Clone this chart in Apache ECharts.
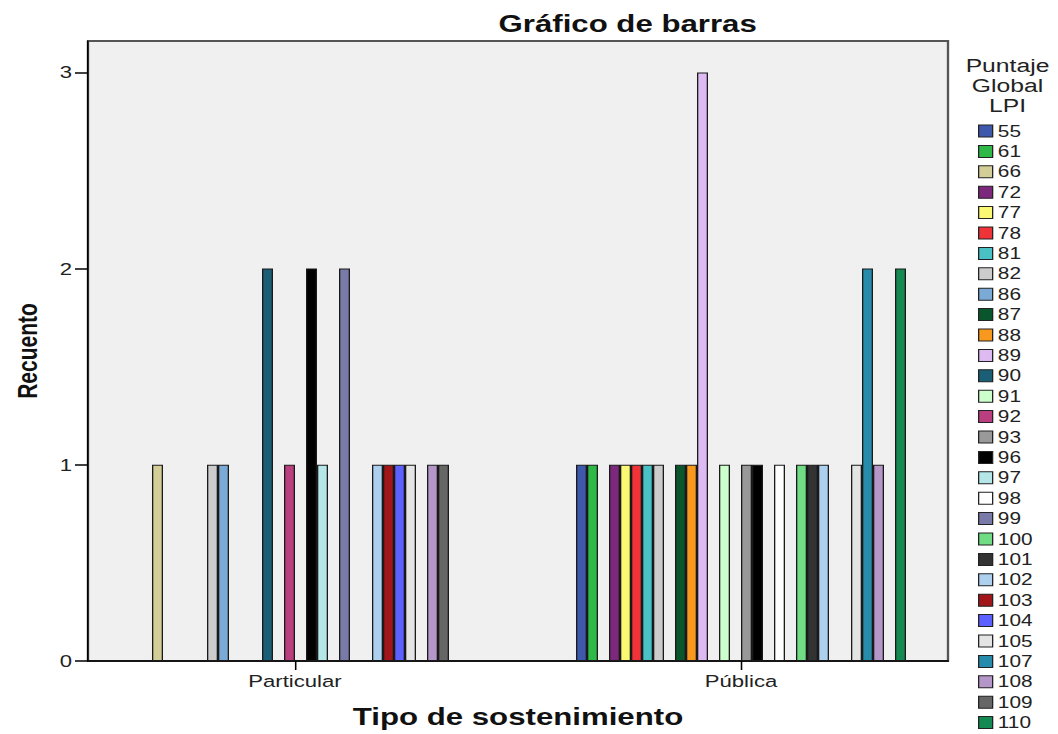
<!DOCTYPE html>
<html>
<head>
<meta charset="utf-8">
<script src="https://cdn.jsdelivr.net/npm/echarts@6/dist/echarts.min.js"></script>
<style>
html,body{margin:0;padding:0;background:#fff;overflow:hidden;width:1058px;height:734px;}
#chart{width:814px;height:734px;transform:scaleX(1.299754);transform-origin:0 0;}
</style>
</head>
<body>
<div id="chart"></div>
<script>
const categories = ['Particular', 'Pública'];
const scores = ['55','61','66','72','77','78','81','82','86','87','88','89','90','91','92','93','96','97','98','99','100','101','102','103','104','105','107','108','109','110'];
const particular = [null,null,1,null,null,null,null,1,1,null,null,null,2,null,1,null,2,1,null,2,null,null,1,1,1,1,null,1,1,null];
const publica    = [1,1,null,1,1,1,1,1,null,1,1,3,null,1,null,1,1,null,1,null,1,1,1,null,null,1,2,1,null,2];
const colors = ['#3E58AC','#2EB848','#D3CE97','#7C287D','#FBF873','#EF3338','#48C2C5','#CCCCCC','#7AAAD5','#0A562C','#F8981D','#DDBAF1','#1A5F76','#CCFFCC','#BB3F7F','#999999','#000000','#B6E7E8','#FFFFFF','#797AA7','#70DC84','#333333','#ACD0EE','#A21619','#5D61FF','#E4E4E4','#278BAC','#B496C8','#666666','#148A52'];
const yTicks = [0, 1, 2, 3];

// the reference picture is stretched horizontally; the chart is drawn at 814px wide and scaled by CSS
const S = 1058 / 814;
const sx = v => v / S;   // screen px -> chart px (horizontal only)

const FONT = 'Liberation Sans, Arial, sans-serif';
const chart = echarts.init(document.getElementById('chart'), null, {renderer: 'svg', width: 814, height: 734});

const series = scores.map((s, i) => ({
  name: s,
  type: 'bar',
  xAxisIndex: 1,
  yAxisIndex: 1,
  barWidth: sx(11),
  barGap: '0%',
  data: [particular[i], publica[i]],
  itemStyle: {color: colors[i], borderColor: '#1a1a1a', borderWidth: 1},
  emphasis: {disabled: true}
}));

chart.setOption({
  animation: false,
  backgroundColor: '#fff',
  title: [
    {text: 'Gráfico de barras', left: sx(492), top: 7,
     textStyle: {fontFamily: FONT, fontSize: 24, fontWeight: 'bold', color: '#111'}},
    {text: 'Puntaje\nGlobal\nLPI', left: sx(1001), top: 51, textAlign: 'center',
     textStyle: {fontFamily: FONT, fontSize: 19, fontWeight: 'normal', lineHeight: 20, color: '#222'}}
  ],
  legend: {
    orient: 'vertical', left: sx(978), top: 123, padding: 0,
    height: 611,
    itemWidth: sx(14), itemHeight: 12, itemGap: 4.4,
    icon: 'rect',
    itemStyle: {borderColor: '#222', borderWidth: 1},
    textStyle: {fontFamily: FONT, fontSize: 16, lineHeight: 16, color: '#222', padding: [0,0,0,-1]},
    data: scores,
    selectedMode: false
  },
  grid: [
    {left: sx(88), right: 814 - sx(948), top: 41, bottom: 73, show: true,
     backgroundColor: '#F0F0F0', borderColor: '#555', borderWidth: 1.8},
    {left: sx(72), right: 814 - sx(964), top: 41, bottom: 73}
  ],
  xAxis: [
    {gridIndex: 0, type: 'value', min: 0, max: 1,
     axisLine: {show: true, lineStyle: {color: '#000', width: 1.5}},
     axisTick: {show: false}, axisLabel: {show: false}, splitLine: {show: false}},
    {gridIndex: 1, type: 'category', data: categories,
     axisLine: {show: false},
     axisTick: {show: true, alignWithLabel: true, length: 9, lineStyle: {color: '#000', width: 1.2}},
     axisLabel: {fontFamily: FONT, fontSize: 17, color: '#222', margin: 11},
     name: 'Tipo de sostenimiento', nameLocation: 'middle', nameGap: 44,
     nameTextStyle: {fontFamily: FONT, fontSize: 24, fontWeight: 'bold', color: '#111'}},
  ],
  yAxis: [
    {gridIndex: 0, type: 'value', min: 0, max: 3.16, interval: 1,
     axisLine: {show: true, lineStyle: {color: '#000', width: 1.2}},
     axisTick: {show: true, length: 10, customValues: yTicks, lineStyle: {color: '#000', width: 1.5}},
     axisLabel: {fontFamily: FONT, fontSize: 17, color: '#222', margin: sx(16), customValues: yTicks},
     splitLine: {show: false},
     name: 'Recuento', nameLocation: 'middle', nameGap: 36, nameRotate: 90,
     nameTextStyle: {fontFamily: FONT, fontSize: 21, fontWeight: 'bold', color: '#111'}},
    {gridIndex: 1, type: 'value', min: 0, max: 3.16, show: false}
  ],
  series: series
});
</script>
</body>
</html>
